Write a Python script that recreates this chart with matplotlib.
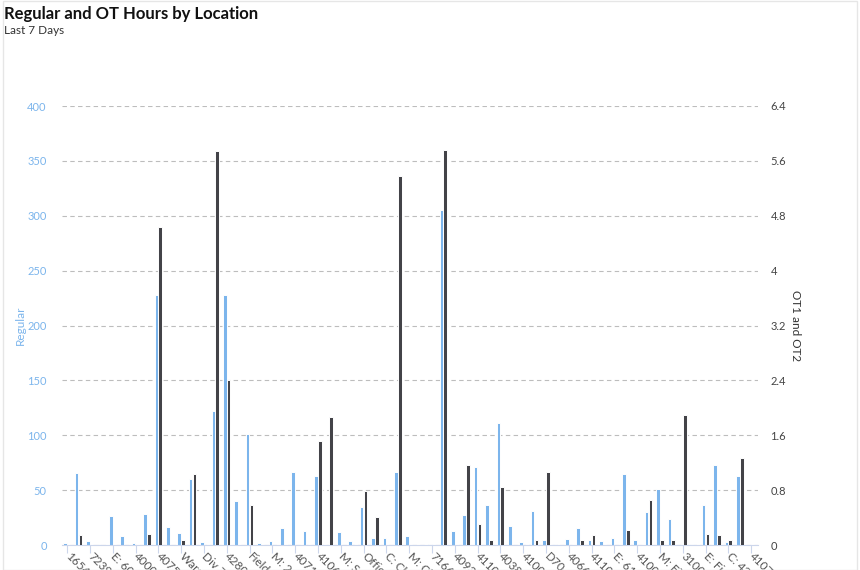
import matplotlib.pyplot as plt
from matplotlib.patches import Rectangle
import numpy as np

plt.rcParams['font.family'] = ['Lato', 'DejaVu Sans']

# labels shown on every second category
tick_labels = ['1654', '7239', 'E: 60', '4000', '4075', 'Ware', 'Div 7', '4280',
               'Field', 'M: 2', '4071', '4106', 'M: S', 'Offic', 'C: Cl', 'M: Cl',
               '7166', '4093', '4110', '4038', '4100', 'D70', '4066', '4110',
               'E: 61', '4100', 'M: Fi', '3100', 'E: Fi', 'C: 42', '4107']

regular = [1.5, 66, 3.6, 0.9, 26.4, 8.2, 1.5, 28.2, 228, 16.1,
           10.9, 59.8, 2.7, 122, 228, 40.1, 101, 1.5, 3.6, 15.2,
           66.2, 13.1, 62.6, 0, 11.5, 3.3, 34.9, 6.4, 6.4, 66.8,
           8.2, 0, 0.9, 305, 12.5, 27.6, 71.1, 36.4, 110.9, 17.6,
           2.7, 31.3, 4.2, 0.9, 5.6, 15.2, 4.6, 3.3, 6.1, 64.7,
           4.2, 29.8, 51, 23.7, 0, 1.2, 36.4, 72.6, 2.7, 62.6, 0]

ot = [0, 0.14, 0, 0, 0, 0, 0, 0.165, 4.64, 0,
      0.073, 1.04, 0, 5.74, 2.41, 0, 0.59, 0, 0, 0,
      0, 0, 1.51, 1.86, 0, 0, 0.78, 0.41, 0, 5.38,
      0, 0, 0, 5.76, 0, 1.17, 0.31, 0.068, 0.84, 0,
      0, 0.068, 1.07, 0, 0, 0.068, 0.14, 0, 0, 0.22,
      0, 0.65, 0.068, 0.068, 1.89, 0, 0.16, 0.146, 0.068, 1.27, 0]

blue = '#7cb5ec'
dark = '#434348'
x = np.arange(len(regular))

fig = plt.figure(figsize=(8.6, 5.7), dpi=100)
ax = fig.add_axes([62 / 860, 25 / 570, 696 / 860, 439 / 570])
ax2 = ax.twinx()

ax.bar(x - 0.17, regular, width=0.32, color=blue, edgecolor='white', linewidth=0.7)
ax2.bar(x + 0.17, ot, width=0.32, color=dark, edgecolor='white', linewidth=0.7)

ax.set_xlim(-0.45, 60.6)
ax.set_ylim(0, 400)
ax2.set_ylim(0, 6.4)
ax.set_yticks(np.arange(0, 401, 50))
ax2.set_yticks(np.arange(0, 6.5, 0.8))
ax2.set_yticklabels(['0', '0.8', '1.6', '2.4', '3.2', '4', '4.8', '5.6', '6.4'])

ax.grid(axis='y', color='#bdbdbd', linestyle=(0, (4, 3)), linewidth=0.8)
ax.set_axisbelow(True)

for a in (ax, ax2):
    for s in ('top', 'left', 'right'):
        a.spines[s].set_visible(False)
    a.spines['bottom'].set_color('#ccd6eb')
ax2.spines['bottom'].set_visible(False)

ax.tick_params(axis='y', length=0, pad=11, labelsize=8, labelcolor=blue)
ax2.tick_params(axis='y', length=0, pad=9, labelsize=8, labelcolor='#444444')

ax.set_xticks(x[::2])
ax.set_xticklabels(tick_labels, rotation=-45, ha='left', va='center',
                   rotation_mode='anchor', fontsize=8.5, color='#555555')
ax.tick_params(axis='x', length=6, color='#ccd6eb', pad=1)

ax.set_ylabel('Regular', color=blue, fontsize=8.5, va='center')
ax.yaxis.set_label_coords(-42 / 696, 0.5)
ax2.set_ylabel('OT1 and OT2', color='#333333', fontsize=8.5, rotation=-90, va='center')
ax2.yaxis.set_label_coords(1 + 37 / 696, 0.5)

fig.text(4 / 860, 1 - 14 / 570, 'Regular and OT Hours by Location',
         fontsize=12, fontweight='bold', color='#111111', va='center')
fig.text(4 / 860, 1 - 30 / 570, 'Last 7 Days', fontsize=8.5, color='#333333', va='center')

fig.patches.append(Rectangle((0.003, 0.0), 0.994, 0.999, transform=fig.transFigure,
                             fill=False, edgecolor='#e6e6e6', linewidth=1))

fig.savefig('out.png', dpi=100)
